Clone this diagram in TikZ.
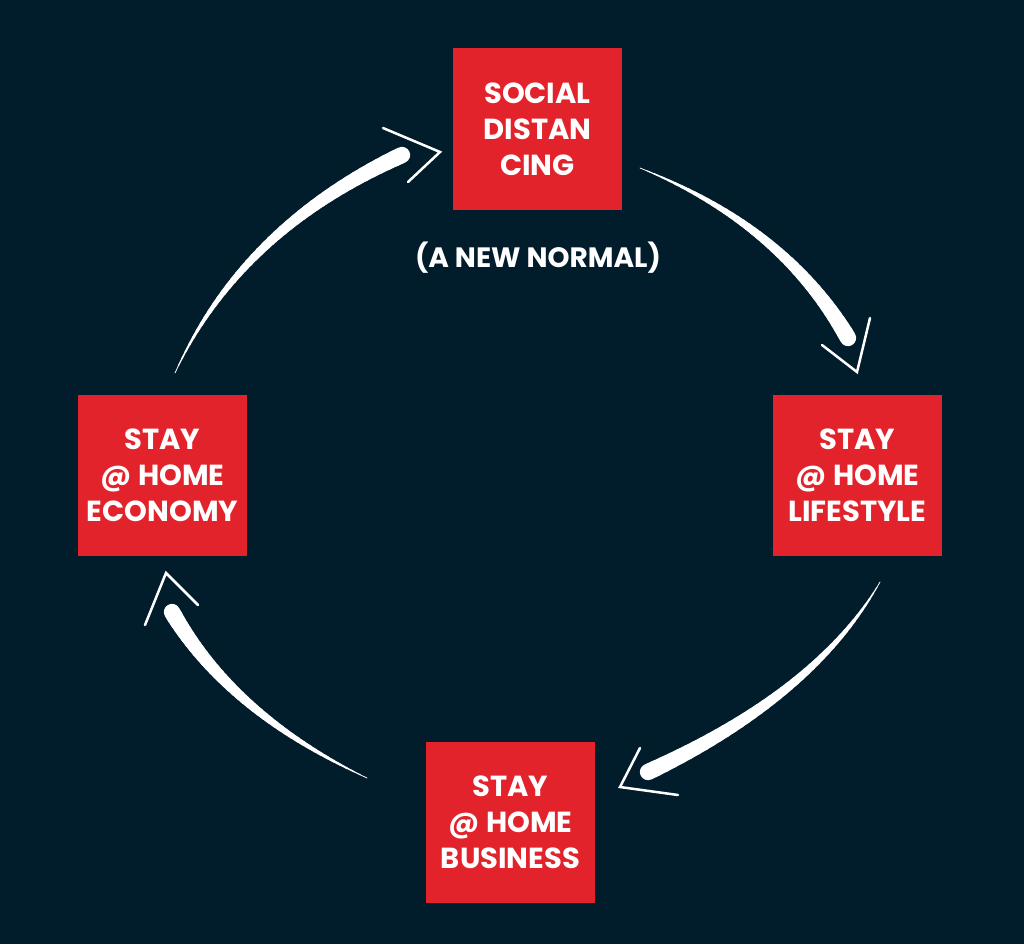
\documentclass[tikz,border=0pt]{standalone}
\usepackage{fontspec}
\setmainfont{Poppins}
\usetikzlibrary{calc}
\definecolor{bg}{HTML}{011C2B}
\definecolor{boxred}{HTML}{E3232B}
\newcommand\brushstroke[4]{% name, start, control, end
  \foreach \i in {0,...,40} {\path (#2) .. controls ($(#2)!2/3!(#3)$) and ($(#4)!2/3!(#3)$) .. (#4) coordinate[pos=\i/40] (#1\i);}
  \foreach \i in {0,...,39} {%
    \pgfmathtruncatemacro\j{\i+1}%
    \pgfmathsetmacro\w{0.8+15.5*\i/39}%
    \draw[brush, line width=\w pt] (#1\i) -- (#1\j);}
}
\begin{document}
\begin{tikzpicture}[x=1pt,y=-1pt,
  box/.style={fill=boxred, minimum width=169pt, minimum height=161pt, inner sep=0pt,
    text=white, align=center, font=\bfseries\fontsize{29}{36}\selectfont},
  brush/.style={draw=white, line cap=round},
  chev/.style={draw=white, line width=2.5pt, line cap=round, line join=miter}]
\fill[bg] (0,0) rectangle (1024,944);
\useasboundingbox (0,0) rectangle (1024,944);

\node[box] (sd) at (537.5,129) {SOCIAL\\DISTAN\\CING};
\node[box] (life) at (857.5,475) {STAY\\@ HOME\\LIFESTYLE};
\node[box] (bus) at (510.5,822) {STAY\\@ HOME\\BUSINESS};
\node[box] (eco) at (162.5,475) {STAY\\@ HOME\\ECONOMY};
\node[text=white, font=\bfseries\fontsize{28}{36}\selectfont] (nn) at (538,258) {(A NEW NORMAL)};

% arrow 1: economy -> social distancing
\coordinate (a1s) at (175,373); \coordinate (a1c) at (241,229); \coordinate (a1e) at (402,155);
\brushstroke{pa}{a1s}{a1c}{a1e}
\coordinate (a1t) at (440,152); \coordinate (a1l) at (383,128); \coordinate (a1r) at (408,182);
\draw[chev] (a1l) -- (a1t) -- (a1r);

% arrow 2: social distancing -> lifestyle
\coordinate (a2s) at (640,168); \coordinate (a2c) at (783,225); \coordinate (a2e) at (848,338);
\brushstroke{pb}{a2s}{a2c}{a2e}
\coordinate (a2t) at (857,372); \coordinate (a2l) at (870,318); \coordinate (a2r) at (822,345);
\draw[chev] (a2l) -- (a2t) -- (a2r);

% arrow 3: lifestyle -> business
\coordinate (a3s) at (880,582); \coordinate (a3c) at (816,694); \coordinate (a3e) at (648,772);
\brushstroke{pc}{a3s}{a3c}{a3e}
\coordinate (a3t) at (620,787); \coordinate (a3l) at (640,748); \coordinate (a3r) at (678,795);
\draw[chev] (a3l) -- (a3t) -- (a3r);

% arrow 4: business -> economy
\coordinate (a4s) at (367,778); \coordinate (a4c) at (231,714); \coordinate (a4e) at (172,612);
\brushstroke{pd}{a4s}{a4c}{a4e}
\coordinate (a4t) at (166,573); \coordinate (a4l) at (145,625); \coordinate (a4r) at (198,605);
\draw[chev] (a4l) -- (a4t) -- (a4r);
\end{tikzpicture}
\end{document}
